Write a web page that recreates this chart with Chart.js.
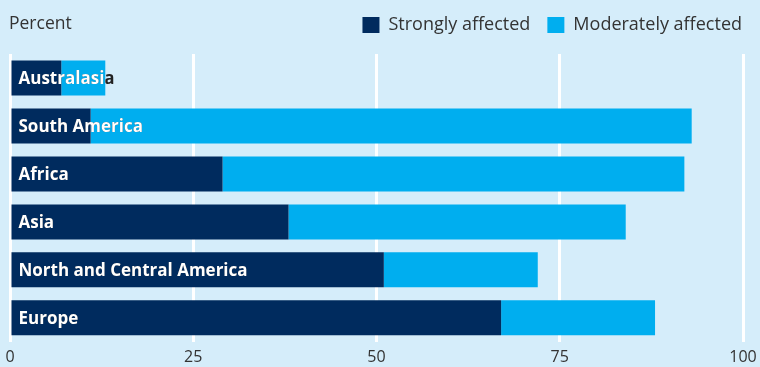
<!DOCTYPE html>
<html>
<head>
<meta charset="utf-8">
<script src="https://cdn.jsdelivr.net/npm/chart.js@4.4.1/dist/chart.umd.min.js"></script>
<style>
  html,body{margin:0;padding:0;background:#d5edfa;}
  #wrap{width:760px;height:367px;position:relative;}
</style>
</head>
<body>
<div id="wrap"><canvas id="myChart"></canvas></div>
<script>
// data
const regions = ["Australasia","South America","Africa","Asia","North and Central America","Europe"];
const strongly = [7,11,29,38,51,67];
const moderately = [6,82,63,46,21,21];
const xTicks = [0,25,50,75,100];

const navy = "#002b5e";
const cyan = "#00aeef";
const fontFamily = "'Open Sans','Noto Sans',sans-serif";

// "Percent" text and legend across the top
const header = {
    id:'header',
    afterDraw(chart){
        const c = chart.ctx;
        c.save();
        c.font = "17.5px " + fontFamily;
        c.fillStyle = "#333333";
        c.textBaseline = "middle";
        c.fillText("Percent", 9, 24);

        // legend, right aligned, drawn from the datasets
        c.font = "18px " + fontFamily;
        let x = 742;
        const items = chart.data.datasets.slice().reverse();
        items.forEach((ds)=>{
            const w = c.measureText(ds.label).width;
            x -= w;
            c.fillStyle = "#333333";
            c.fillText(ds.label, x, 25);
            x -= 9 + 17;
            c.fillStyle = ds.backgroundColor;
            c.fillRect(x, 17, 17, 16);
            x -= 17;
        });
        c.restore();
    }
};

// region names inside the bars, white on the bar and dark past its end
const barLabels = {
    id:'barLabels',
    afterDatasetsDraw(chart){
        const c = chart.ctx;
        const m0 = chart.getDatasetMeta(0);
        const m1 = chart.getDatasetMeta(1);
        c.save();
        c.font = "bold 17px " + fontFamily;
        c.textBaseline = "middle";
        regions.forEach((name,i)=>{
            const b0 = m0.data[i];
            const b1 = m1.data[i];
            const x = b0.base + 7;
            const y = b0.y + 1;
            const end = b1.x;
            c.fillStyle = "#222222";
            c.fillText(name, x, y);
            c.save();
            c.beginPath();
            c.rect(b0.base, b0.y - b0.height/2, end - b0.base, b0.height);
            c.clip();
            c.fillStyle = "#ffffff";
            c.fillText(name, x, y);
            c.restore();
        });
        c.restore();
    }
};

const ctx = document.getElementById('myChart');
const myChart = new Chart(ctx,{
    type:'bar',
    data:{
        labels:regions,
        datasets:[
            {
                label:"Strongly affected",
                data:strongly,
                backgroundColor:navy,
                barPercentage:0.73,
                categoryPercentage:1
            },
            {
                label:"Moderately affected",
                data:moderately,
                backgroundColor:cyan,
                barPercentage:0.73,
                categoryPercentage:1
            }
        ]
    },
    options:{
        indexAxis:'y',
        responsive:true,
        maintainAspectRatio:false,
        animation:false,
        layout:{
            padding:{ top:54, left:10, right:17, bottom:-6 }
        },
        plugins:{
            legend:{ display:false },
            tooltip:{ enabled:false }
        },
        scales:{
            x:{
                stacked:true,
                min:0,
                max:100,
                afterBuildTicks(axis){
                    axis.ticks = xTicks.map(v=>({value:v}));
                },
                afterFit(axis){
                    // let the end labels hang over, as in the original
                    axis.paddingLeft = 0;
                    axis.paddingRight = 0;
                },
                grid:{
                    color:"#ffffff",
                    lineWidth:3,
                    drawTicks:false
                },
                border:{ display:false },
                ticks:{
                    color:"#333333",
                    padding:6,
                    font:{ size:16, family:fontFamily }
                }
            },
            y:{
                stacked:true,
                display:false
            }
        }
    },
    plugins:[header, barLabels]
});
</script>
</body>
</html>
